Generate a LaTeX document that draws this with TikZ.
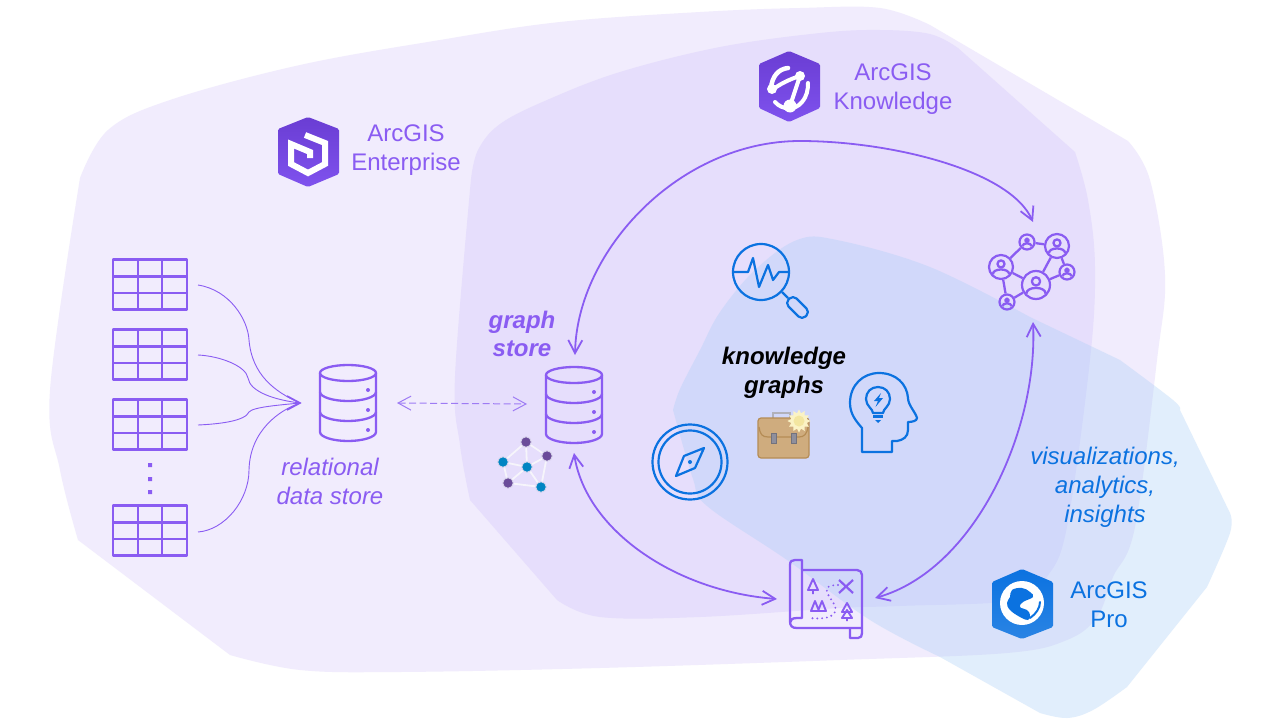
\documentclass[tikz,border=0pt]{standalone}
\usepackage{fontspec}
\setmainfont{Liberation Sans}
\usetikzlibrary{arrows.meta,shapes.geometric}
\definecolor{entc}{HTML}{F1ECFD}
\definecolor{knoc}{HTML}{E6DEFC}
\definecolor{proc}{HTML}{AED0F7}
\definecolor{pur}{HTML}{8A5CF2}
\definecolor{purl}{HTML}{9E7BF4}
\definecolor{blu}{HTML}{0B72E0}
\definecolor{blub}{HTML}{2A84E4}
\definecolor{hexa}{HTML}{6A3DD3}
\definecolor{hexb}{HTML}{7F52EE}
\definecolor{gpur}{HTML}{6B4C9A}
\definecolor{gblu}{HTML}{0085C3}
\definecolor{gedge}{HTML}{F6F5FB}
\definecolor{gring}{HTML}{D9D6EC}
\definecolor{brief}{HTML}{CFAC7E}
\definecolor{briefe}{HTML}{B58C55}
\definecolor{grayc}{HTML}{8F8F9C}
\definecolor{suna}{HTML}{FBF3C5}
\definecolor{sunb}{HTML}{F3E6A0}
\tikzset{
  lbl/.style={font=\fontsize{24}{29}\selectfont,align=center,inner sep=0pt},
  ic/.style={draw=pur,line width=2.3,line join=round},
  bic/.style={draw=blu,line width=2.2,line join=round},
  link/.style={draw=pur,line width=1.8,{Straight Barb[length=13pt,width=14pt]}-{Straight Barb[length=13pt,width=14pt]}},
  feed/.style={draw=pur,line width=.9},
  pnode/.style={circle,draw=pur,line width=2.2,inner sep=0pt,minimum size=#1},
  gnode/.style={circle,inner sep=0pt,minimum size=10.5,draw=gring,line width=.8},
  pics/tbl/.style={code={
    \draw[ic] (-37,-25) rectangle (37,25);
    \draw[ic] (-12,-25)--(-12,25) (12,-25)--(12,25) (-37,-8)--(37,-8) (-37,8.5)--(37,8.5);
  }},
  pics/dbicon/.style={code={
    \draw[ic] (0,0) ellipse [x radius=28,y radius=8];
    \draw[ic] (-28,0)--(-28,59) .. controls (-28,64) and (-15,68) .. (0,68) .. controls (15,68) and (28,64) .. (28,59)--(28,0);
    \draw[ic] (-28,19) .. controls (-28,24) and (-15,28) .. (0,28) .. controls (15,28) and (28,24) .. (28,19);
    \draw[ic] (-28,39) .. controls (-28,44) and (-15,48) .. (0,48) .. controls (15,48) and (28,44) .. (28,39);
    \fill[pur] (20,17) circle[radius=2] (20,37) circle[radius=2] (20,57) circle[radius=2];
  }},
  pics/person/.style={code={
    \draw[ic] (0,-0.28*#1) circle[radius=0.32*#1];
    \draw[ic] (-0.74*#1,0.66*#1) .. controls (-0.74*#1,0.08*#1) and (0.74*#1,0.08*#1) .. (0.74*#1,0.66*#1);
  }},
}
\begin{document}
\begin{tikzpicture}[x=1pt,y=-1pt]
\useasboundingbox (0,0) rectangle (1280,720);
\fill[white] (0,0) rectangle (1280,720);
% regions
\fill[entc] plot[smooth,tension=.6] coordinates {(80,178)(108,130)(170,100)(300,65)(440,40)(560,22)(700,12)(800,8)(880,8)(930,25)}
  -- plot[smooth,tension=.6] coordinates {(1128,141)(1150,180)(1165,275)(1157,360)(1135,527)(1113,577)(1097,617)(1067,640)(1007,653)(840,660)(600,668)(400,672)(300,670)(230,655)}
  -- plot[smooth,tension=.6] coordinates {(78,540)(60,470)(50,390)(80,178)} -- cycle;
\fill[knoc] plot[smooth,tension=.6] coordinates {(471,179)(478,150)(500,124)(547,100)(620,72)(720,47)(820,33)(880,30)(930,34)(958,48)}
  -- plot[smooth,tension=.6] coordinates {(1075,152)(1088,200)(1095,267)(1090,360)(1067,527)(1047,577)(1020,600)(900,606)(840,608)(700,617)(600,617)(557,600)}
  -- plot[smooth,tension=.6] coordinates {(470,500)(460,445)(455,376)(471,179)} -- cycle;
\fill[proc,fill opacity=.36] plot[smooth,tension=.6] coordinates {(673,410)(680,389)(700,350)(720,312)(755,270)(797,240)(837,240)(930,267)(1030,317)}
  -- plot[smooth,tension=.6] coordinates {(1120,360)(1173,400)(1180,410)}
  -- plot[smooth,tension=.6] coordinates {(1230,513)(1230,533)(1207,587)}
  -- plot[smooth,tension=.6] coordinates {(1127,687)(1093,710)(1067,718)(1040,713)}
  -- plot[smooth,tension=.6] coordinates {(940,657)(870,620)(787,560)(707,506)(693,479)(673,410)} -- cycle;
% logos
\node[lbl,text=pur] (enttext) at (406,150.5) {ArcGIS\\Enterprise};
\node[lbl,text=pur] (knotext) at (893,89.5) {ArcGIS\\Knowledge};
\node[lbl,text=blu] (protext) at (1109,604.5) {ArcGIS\\Pro};
\shade[top color=hexa,bottom color=hexb,rounded corners=1.5] (308,117)--(339,129)--(339,174)--(308,187)--(278,174)--(278,129)--cycle;
\draw[white,line width=6,miter limit=10] (305,135)--(325,143)--(325,164)--(308,173)--(291,164)--(291,144)--(310,152)--(310,158);
\shade[top color=hexa,bottom color=hexb,rounded corners=1.5] (789,51)--(820,64)--(820,108)--(789,122)--(759,108)--(759,64)--cycle;
\draw[white,line width=4.5,line cap=round] (771,88) .. controls (772,77) and (778,69) .. (788,68);
\draw[white,line width=4,line cap=round] (772,90) .. controls (780,84) and (790,79) .. (800,76) -- (790,106);
\draw[white,line width=4,line cap=round] (775,102) .. controls (782,110) and (795,111) .. (802,102) .. controls (807,96) and (808,90) .. (808,83);
\fill[white] (800,76) circle[radius=5] (772,89) circle[radius=5] (790,106) circle[radius=6.5];
\shade[top color=blu,bottom color=blub,rounded corners=1.5] (1022,569)--(1053,582)--(1053,627)--(1022,639)--(992,627)--(992,582)--cycle;
\fill[white] (1022,603) circle[radius=22];
\fill[blu] plot[smooth cycle,tension=.7] coordinates {(1012,590)(1022,588)(1030,592)(1033,597)(1023,602)(1020,607)(1027,610)(1030,615)(1028,620)(1020,617)(1010,610)(1007,603)(1010,597)};
\draw[blu,line width=2,line cap=round] (1030,618) .. controls (1036,614) and (1040,608) .. (1040,602);
% tables
\node[inner sep=0pt,minimum width=74,minimum height=50] (t1) at (150,284.5) {};
\node[inner sep=0pt,minimum width=74,minimum height=50] (t2) at (150,354.5) {};
\node[inner sep=0pt,minimum width=74,minimum height=50] (t3) at (150,424.5) {};
\node[inner sep=0pt,minimum width=74,minimum height=50] (t4) at (150,530.5) {};
\pic at (t1) {tbl};\pic at (t2) {tbl};\pic at (t3) {tbl};\pic at (t4) {tbl};
\fill[pur] (148,463) rectangle (152,467) (148,477) rectangle (152,481) (148,490) rectangle (152,494);
% databases
\pic at (348,373) {dbicon};
\pic at (574,375) {dbicon};
\coordinate (relin) at (300,403);
\coordinate (relout) at (397,403);
\coordinate (grin) at (527,404);
\coordinate (grtop) at (575,355);
\coordinate (grbot) at (574,453);
\coordinate (netin) at (1033,222);
\coordinate (netbot) at (1033,322);
\coordinate (mapl) at (777,599);
\coordinate (mapr) at (875,598);
\coordinate (a1) at (198,285);\coordinate (a2) at (198,355);\coordinate (a3) at (198,425);\coordinate (a4) at (198,532);
% feeds
\draw[feed] (a1) .. controls (230,290) and (248,320) .. (249,340) .. controls (252,375) and (275,392) .. (relin);
\draw[feed] (a2) .. controls (220,356) and (246,366) .. (248,378) .. controls (250,392) and (275,400) .. (relin);
\draw[feed] (a3) .. controls (220,424) and (245,421) .. (249,412) .. controls (253,407) and (280,405) .. (relin);
\draw[feed] (a4) .. controls (225,530) and (249,500) .. (249,470) .. controls (250,430) and (280,410) .. (relin);
\draw[draw=pur,line width=1.6] (287,396)--(relin)--(287,410);
\draw[draw=purl,line width=1,dash pattern=on 7pt off 3.5pt,{Straight Barb[length=13pt,width=14pt]}-{Straight Barb[length=13pt,width=14pt]}] (relout) -- (grin);
% main arrows
\draw[link] (grtop) .. controls (577,250) and (680,141) .. (800,141) .. controls (890,141) and (1010,170) .. (netin);
\draw[link] (grbot) .. controls (586,530) and (675,591) .. (mapl);
\draw[link] (netbot) .. controls (1038,430) and (975,570) .. (mapr);
% labels
\node[lbl,text=pur,font=\fontsize{24}{29}\selectfont\itshape] (reltext) at (330,481.5) {relational\\data store};
\node[lbl,text=pur,font=\fontsize{24}{28}\selectfont\bfseries\itshape] (grtext) at (522,334) {graph\\store};
\node[lbl,text=black,font=\fontsize{24}{29}\selectfont\bfseries\itshape] (kgtext) at (784,372.5) {knowledge\\graphs};
\node[lbl,text=blu,font=\fontsize{24}{29}\selectfont\itshape] (vistext) at (1105,487.5) {visualizations,\\analytics,\\insights};
% small graph
\node[gnode,fill=gpur] (g1) at (526,442) {};
\node[gnode,fill=gpur] (g2) at (547,456) {};
\node[gnode,fill=gblu] (g3) at (503,462) {};
\node[gnode,fill=gblu] (g4) at (527,467) {};
\node[gnode,fill=gpur] (g5) at (508,483) {};
\node[gnode,fill=gblu] (g6) at (541,487) {};
\draw[gedge,line width=1.8] (g1)--(g2) (g1)--(g3) (g1)--(g4) (g2)--(g4) (g2)--(g6) (g3)--(g4) (g3)--(g5) (g4)--(g5) (g4)--(g6) (g5)--(g6);
% network
\node[pnode=15] (n1) at (1027,242) {};
\node[pnode=24] (n2) at (1057,246) {};
\node[pnode=24] (n3) at (1001,267) {};
\node[pnode=15] (n4) at (1067,272) {};
\node[pnode=28] (n5) at (1036,285) {};
\node[pnode=15] (n6) at (1007,302) {};
\draw[ic] (n1)--(n2) (n1)--(n3) (n2)--(n4) (n2)--(n5) (n4)--(n5) (n3)--(n5) (n3)--(n6) (n5)--(n6);
\pic at (1027,242) {person=6};
\pic at (1057,246) {person=11};
\pic at (1001,267) {person=11};
\pic at (1067,272) {person=6};
\pic at (1036,285) {person=13};
\pic at (1007,302) {person=6};
% magnifier
\draw[bic] (761,272) circle[radius=28];
\draw[bic] (733,272)--(748,272)--(753,258)--(759,287)--(768,265)--(773,280)--(779,272)--(789,272);
\draw[bic] (782,292)--(788,298);
\draw[bic,rounded corners=5] (793,295)--(810,312)--(802,320)--(785,303)--cycle;
% compass
\draw[bic] (690,462) circle[radius=37.5] (690,462) circle[radius=31.5];
\draw[bic] (704,448)--(695,468)--(676,476)--(684,456)--cycle;
\fill[blu] (690,462) circle[radius=2];
% head
\draw[bic] (862,452)--(862,428) .. controls (856,421) and (850,414) .. (850,403) .. controls (850,385) and (863,373) .. (879,373) .. controls (896,373) and (907,384) .. (908,398) .. controls (908,405) and (916,413) .. (917,418) .. controls (917,421) and (912,422) .. (908,422) -- (908,430) .. controls (908,437) and (903,440) .. (897,441) -- (892,441) -- (892,452) -- cycle;
\draw[bic] (873,413) .. controls (873,409) and (866,406) .. (866,399) .. controls (866,392) and (871,387) .. (878,387) .. controls (885,387) and (890,392) .. (890,399) .. controls (890,406) and (883,409) .. (883,413) -- cycle;
\draw[bic] (873,416.5)--(883,416.5);
\fill[blu] (875,420)--(881,420)--(878,423)--cycle;
\fill[blu] (881,393)--(874,401)--(878,401)--(875.5,407)--(883,398)--(879,398)--cycle;
% briefcase
\draw[draw=grayc!70!white,line width=1.2] (773,418)--(773,413)--(790,413)--(790,418);
\filldraw[fill=brief,draw=briefe,line width=1.2,rounded corners=3] (758,418) rectangle (809,458);
\draw[briefe,line width=1.2] (759,427) .. controls (760,434) and (762,437) .. (768,437) -- (799,437) .. controls (804,437) and (807,434) .. (808,427);
\filldraw[fill=grayc,draw=grayc!80!black,line width=.6] (771,433) rectangle (776,443) (791,433) rectangle (796,443);
\node[star,star points=12,star point ratio=1.45,fill=suna,inner sep=0pt,minimum size=23] (sun) at (799,421) {};
\fill[sunb] (sun.center) circle[radius=5.5];
% map
\draw[ic] (802,570)--(857,570) .. controls (860,570) and (862,572) .. (862,575) -- (862,633) .. controls (862,636) and (861,638) .. (858,638) -- (850,638) -- (850,628);
\draw[ic] (862,628)--(797,628) .. controls (792,628) and (790,626) .. (790,621) -- (790,565) .. controls (790,561) and (792,560) .. (795,560) -- (802,560) -- (802,618) -- (797,618) .. controls (792,618) and (790,620) .. (790,623);
\draw[ic,line width=1.9] (813,579)--(808,590)--(818,590)--cycle (813,590)--(813,594);
\draw[ic,line width=1.9] (815,601)--(811,611)--(819,611)--cycle (822,601)--(818,611)--(826,611)--cycle;
\draw[ic,line width=1.9] (847,603)--(842,612)--(852,612)--cycle (847,610)--(842,618)--(852,618)--cycle (847,618)--(847,621);
\draw[ic,line width=2.2] (839,580)--(853,593) (853,580)--(839,593);
\draw[ic,line width=2.1,line cap=round,dash pattern=on 0pt off 4.8pt] (838,585) .. controls (830,585) and (825,587) .. (827,592) .. controls (830,600) and (838,606) .. (835,612) .. controls (831,619) and (820,619) .. (809,618);
\end{tikzpicture}
\end{document}
